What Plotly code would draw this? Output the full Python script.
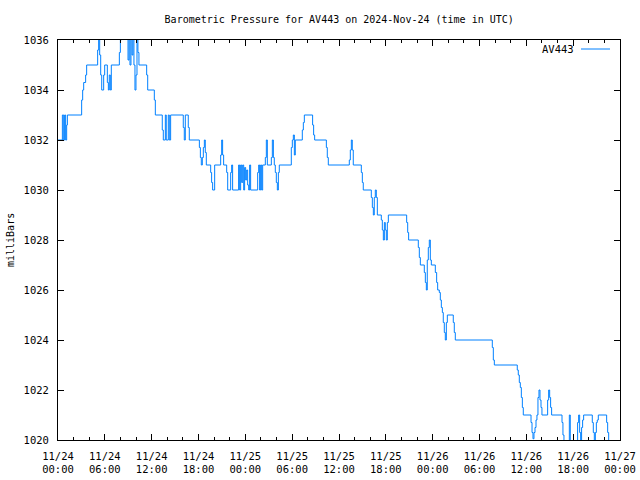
import pandas as pd
import plotly.graph_objects as go

# change points: hours since 2024-11-24 00:00 UTC, pressure (mbar)
hours = [
    0.00, 0.56, 0.73, 0.85, 0.98, 1.11, 1.20, 3.03, 3.16, 3.29, 3.54, 3.67,
    5.08, 5.21, 5.34, 5.47, 5.60, 5.85, 5.98, 6.32, 6.45, 6.57, 6.70, 6.83,
    7.86, 7.99, 8.11, 8.97, 9.10, 9.22, 9.35, 9.48, 9.60, 9.73, 9.86, 9.99,
    10.12, 10.24, 10.37, 11.36, 11.49, 12.34, 12.47, 13.36, 13.49, 13.75,
    13.87, 14.13, 14.26, 14.43, 16.05, 16.18, 16.31, 16.69, 16.82, 18.11,
    18.24, 18.36, 18.49, 18.62, 18.75, 18.87, 19.00, 19.56, 19.68, 19.81,
    20.07, 20.84, 20.97, 21.09, 21.22, 21.61, 21.74, 22.12, 22.25, 22.37,
    23.14, 23.27, 23.40, 23.53, 23.66, 23.79, 23.91, 24.04, 24.17, 24.30,
    24.43, 24.55, 24.68, 25.58, 25.71, 25.83, 25.96, 26.09, 26.22, 26.56,
    26.69, 26.82, 27.33, 27.46, 27.59, 27.71, 27.84, 27.97, 28.10, 28.23,
    28.35, 29.89, 30.02, 30.15, 30.28, 30.40, 31.30, 31.43, 31.56, 32.62,
    32.75, 32.88, 34.38, 34.50, 34.63, 37.32, 37.45, 37.58, 37.70, 37.83,
    38.86, 38.99, 39.11, 40.14, 40.27, 40.40, 40.52, 40.65, 40.78, 40.91,
    41.42, 41.55, 41.68, 41.81, 41.93, 42.06, 42.19, 42.32, 44.67, 44.80,
    44.92, 46.16, 46.29, 46.42, 46.93, 47.06, 47.19, 47.31, 47.44, 47.57,
    47.70, 47.83, 48.34, 48.51, 48.64, 48.85, 48.98, 49.11, 49.24, 49.36,
    49.49, 49.62, 49.75, 49.88, 50.64, 50.77, 50.90, 55.64, 55.77, 55.90,
    58.84, 58.97, 59.10, 59.23, 59.36, 59.49, 59.61, 60.60, 60.73, 60.85,
    60.98, 61.11, 61.24, 61.36, 61.49, 61.62, 61.75, 61.88, 62.00, 62.73,
    62.86, 62.99, 63.11, 63.24, 64.57, 64.69, 64.82, 65.51, 65.63, 66.57,
    66.70, 66.83, 66.96, 67.08, 67.21, 67.34, 68.45, 68.58, 68.71, 68.84,
    68.97, 69.09, 69.22, 70.29, 70.42, 70.55,
]
pressure = [
    1032, 1033, 1032, 1033, 1032, 1032.6, 1033, 1033.6, 1034, 1034.3, 1034.6, 1035,
    1035.6, 1036.2, 1035.4, 1034.6, 1034, 1034.6, 1035, 1034.3, 1034, 1034.6, 1034, 1035,
    1035.5, 1036, 1036.3, 1035.2, 1036.3, 1035, 1036.3, 1035.4, 1036.2, 1035, 1034, 1034.6,
    1036.2, 1035.5, 1035, 1034.6, 1034, 1033.6, 1033, 1032.4, 1032, 1033,
    1032, 1033, 1032, 1033, 1032.5, 1032, 1033, 1032.5, 1032, 1031.7,
    1031.3, 1031, 1031.3, 1031.7, 1032, 1031.5, 1031, 1030.7, 1030.3, 1030,
    1031, 1031.4, 1032, 1031.4, 1031, 1030.7, 1030, 1030.7, 1031, 1030,
    1031, 1030, 1031, 1030.3, 1031, 1030, 1030.9, 1030.4, 1030.8, 1030.2,
    1030, 1031, 1030, 1030.7, 1031, 1030, 1031, 1030, 1031, 1031.3,
    1032, 1031, 1031.3, 1032, 1031.3, 1031, 1030.7, 1030.3, 1030, 1030.7,
    1031, 1031.7, 1032, 1032.2, 1031.4, 1032, 1032.4, 1032.7, 1033, 1032.6,
    1032.2, 1032, 1031.7, 1031.3, 1031, 1031.2, 1031.6, 1032, 1031.6, 1031,
    1030.7, 1030.3, 1030, 1029.7, 1029.3, 1029, 1029.7, 1030, 1029.7, 1029,
    1028.8, 1028.4, 1028, 1028.7, 1028.4, 1028, 1028.7, 1029, 1028.7, 1028.3,
    1028, 1027.7, 1027.3, 1027, 1026.7, 1026.3, 1026, 1027.2, 1027.7, 1028,
    1027.2, 1027, 1026.7, 1026.3, 1026, 1025.9, 1025.6, 1025.3, 1025.1, 1024.7,
    1024.3, 1024, 1024.7, 1025, 1024.7, 1024.3, 1024, 1023.7, 1023.2, 1023,
    1022.8, 1022.6, 1022.3, 1022.1, 1021.7, 1021.3, 1021, 1020.7, 1020.3, 1020.05,
    1020.3, 1020.5, 1020.8, 1021, 1021.7, 1022, 1021.6, 1021.3, 1021, 1021.6,
    1022, 1021.7, 1021.3, 1021, 1020.7, 1020.2, 1019.9, 1021, 1019.9, 1020.7,
    1021, 1020.3, 1019.9, 1020.5, 1020.8, 1021, 1020.7, 1020.3, 1019.9, 1020.3,
    1020.7, 1020.8, 1021, 1020.7, 1020.3, 1019.9,
]

start = pd.Timestamp("2024-11-24 00:00")
times = [start + pd.Timedelta(hours=h) for h in hours]

x_tick_hours = list(range(0, 73, 6))
x_tick_vals = [start + pd.Timedelta(hours=h) for h in x_tick_hours]
x_tick_text = [t.strftime("%m/%d<br>%H:%M") for t in x_tick_vals]
y_ticks = list(range(1020, 1037, 2))

series_name = "AV443"
y_label = "milliBars"
line_color = "#0080ff"
font_family = "DejaVu Sans Mono"

fig = go.Figure()
fig.add_trace(go.Scatter(
    x=times, y=pressure, mode="lines", line=dict(color=line_color, width=1, shape="hv"),
    name=series_name, showlegend=False,
))

axis_common = dict(
    showgrid=False, zeroline=False, showline=True, linecolor="black", linewidth=1,
    ticks="inside", tickcolor="black", tickwidth=1, mirror="allticks", automargin=False,
)

fig.update_layout(
    width=640, height=480,
    margin=dict(l=58, r=20, t=40, b=40),
    paper_bgcolor="white", plot_bgcolor="white",
    title=dict(text="Barometric Pressure for AV443 on 2024-Nov-24 (time in UTC)",
               x=0.53, xanchor="center", y=0.96, yanchor="middle",
               font=dict(family=font_family, size=10, color="black")),
    xaxis=dict(
        type="date", range=[x_tick_vals[0], x_tick_vals[-1]],
        tickvals=x_tick_vals, ticktext=x_tick_text, ticklen=6, ticklabelstandoff=6,
        tickfont=dict(family=font_family, size=10.5, color="black"),
        minor=dict(dtick=2 * 3600 * 1000, ticklen=3, ticks="inside", tickcolor="black", showgrid=False),
        **axis_common,
    ),
    yaxis=dict(
        range=[1020, 1036], tickvals=y_ticks, ticklen=6, ticklabelstandoff=6,
        tickfont=dict(family=font_family, size=10.5, color="black"),
        **axis_common,
    ),
)

# y-axis label
fig.add_annotation(xref="paper", yref="paper", x=(10 - 58) / 562, y=(440 - 240) / 400,
                   text=y_label, showarrow=False, textangle=-90, xanchor="center", yanchor="middle",
                   font=dict(family=font_family, size=10, color="black"))

# legend mimicking gnuplot key (text followed by line sample)
fig.add_annotation(xref="paper", yref="paper", x=(576 - 58) / 562, y=(440 - 49) / 400,
                   text=series_name, showarrow=False, xanchor="right", yanchor="middle",
                   font=dict(family=font_family, size=10.5, color="black"))
fig.add_shape(type="line", xref="paper", yref="paper",
              x0=(581 - 58) / 562, x1=(610 - 58) / 562, y0=(440 - 49) / 400, y1=(440 - 49) / 400,
              line=dict(color=line_color, width=1))

fig.write_html("out.html")
